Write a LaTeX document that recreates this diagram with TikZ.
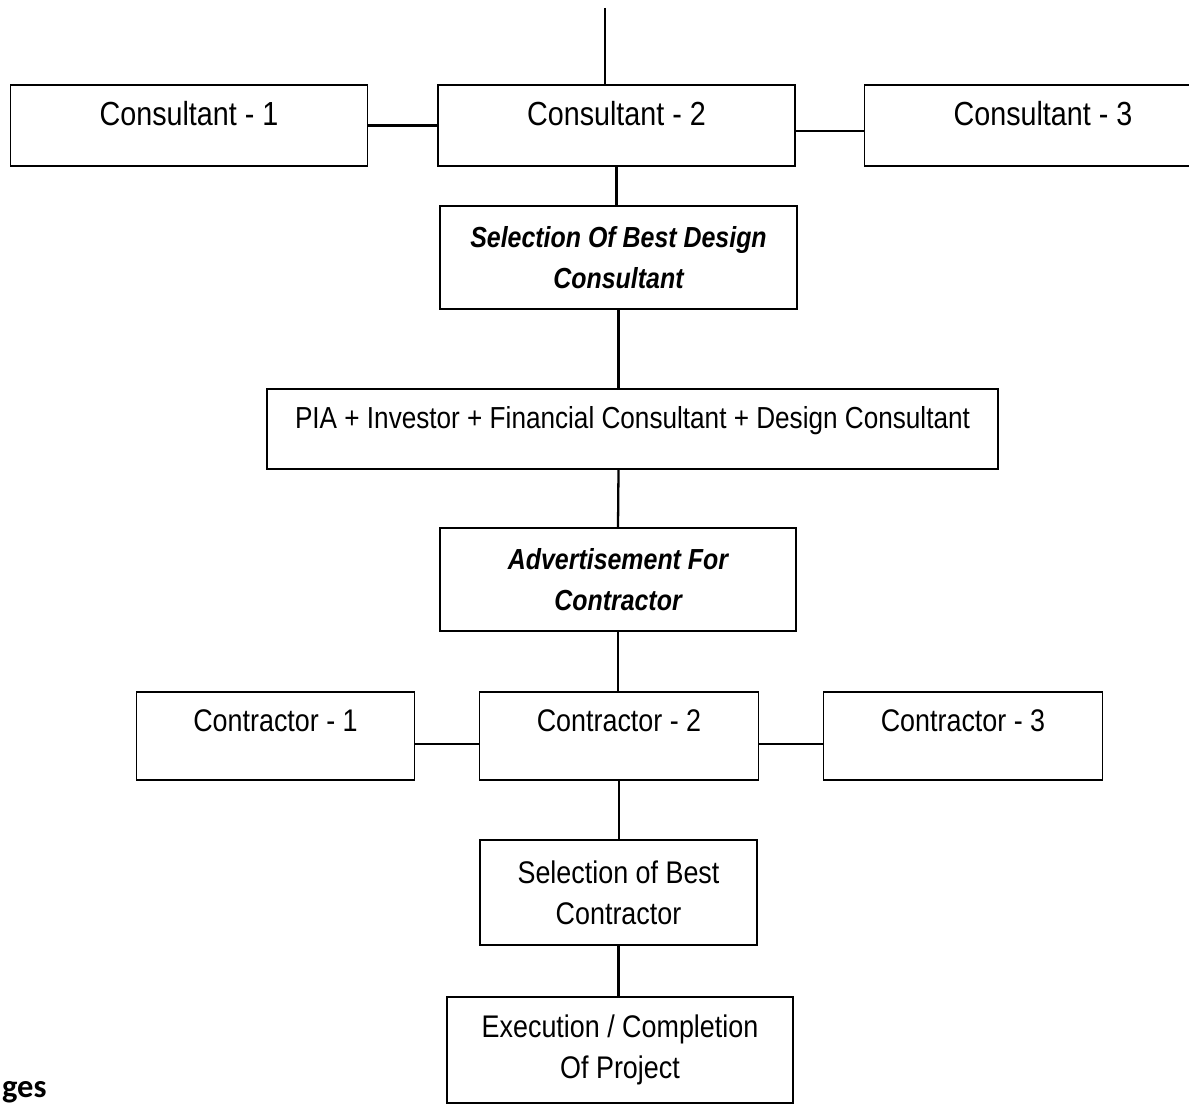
\documentclass[tikz,border=0pt]{standalone}
\usepackage{fontspec}
\setmainfont{Liberation Sans}[FakeStretch=0.86]
\newfontfamily\gesfont{Carlito}
\usetikzlibrary{positioning,calc}

\begin{document}
\begin{tikzpicture}[x=0.02cm, y=-0.02cm, line width=1.3pt,
main box/.style={draw, line width=0.8pt, inner sep=0pt, align=center},
consultant box/.style={main box, minimum width=7.14cm, minimum height=1.62cm, font=\fontsize{19}{23}\selectfont, text height=12pt, text depth=11.5pt},
contractor box/.style={main box, minimum width=5.57cm, minimum height=1.76cm, font=\fontsize{17.8}{21}\selectfont, text height=12pt, text depth=17pt},
step box/.style={main box, font=\fontsize{17.8}{23.5}\selectfont},
key box/.style={step box, font=\fontsize{16.5}{23.5}\selectfont\bfseries\itshape}]
\useasboundingbox (0,0) rectangle (1189,1105);
\node[consultant box] (c1) at (189,125.5) {Consultant - 1};
\node[consultant box] (c2) at (616.5,125.5) {Consultant - 2};
\node[consultant box] (c3) at (1043,125.5) {Consultant - 3};
\node[key box, minimum width=7.14cm, minimum height=2.06cm] (seldesign) at (618.5,257.5) {Selection Of Best Design\\Consultant};
\node[main box, minimum width=14.62cm, minimum height=1.6cm, font=\fontsize{17.3}{20}\selectfont, text height=12pt, text depth=13pt] (pia) at (632.5,429) {PIA + Investor + Financial Consultant + Design Consultant};
\node[key box, minimum width=7.12cm, minimum height=2.06cm] (advert) at (618,579.5) {Advertisement For\\Contractor};
\node[contractor box] (k1) at (275.5,736) {Contractor - 1};
\node[contractor box] (k2) at (619,736) {Contractor - 2};
\node[contractor box] (k3) at (963,736) {Contractor - 3};
\node[step box, minimum width=5.54cm, minimum height=2.1cm] (selbest) at (618.5,892.5) {Selection of Best\\Contractor};
\node[step box, minimum width=6.92cm, minimum height=2.12cm] (exec) at (620,1050) {Execution / Completion\\Of Project};
\node[anchor=base west, inner sep=0pt, font=\gesfont\bfseries\fontsize{18.5}{22}\selectfont] (ges) at (1,1097) {ges};
\coordinate (top) at (605,8);
\draw (top) -- (top |- c2.north);
\draw (c1.east) -- (c2.west);
\draw ($(c2.east)+(0,5.5)$) -- ($(c3.west)+(0,5.5)$);
\draw (c2.south) -- (c2.south |- seldesign.north);
\draw (seldesign.south) -- (seldesign.south |- pia.north);
\draw (seldesign.south |- pia.south) -- (advert.north);
\draw (advert.south) -- (advert.south |- k2.north);
\draw ($(k1.east)+(0,8)$) -- ($(k2.west)+(0,8)$);
\draw ($(k2.east)+(0,8)$) -- ($(k3.west)+(0,8)$);
\draw (k2.south) -- (k2.south |- selbest.north);
\draw (selbest.south) -- (selbest.south |- exec.north);
\end{tikzpicture}
\end{document}
